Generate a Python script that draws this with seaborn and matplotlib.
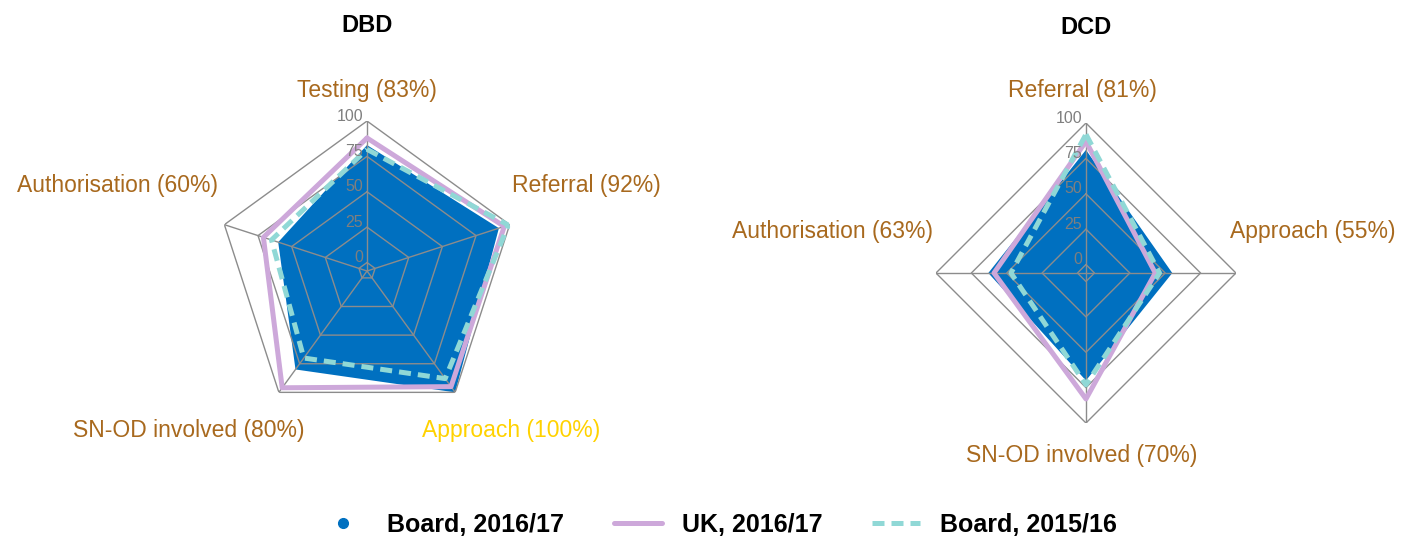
"""
DBD / DCD 레이더 차트 (Board vs UK) 재현 스크립트
"""
import numpy as np
import seaborn as sns
import matplotlib
matplotlib.use('Agg')
import matplotlib.pyplot as plt
from matplotlib.lines import Line2D

sns.set_style('white')
plt.rcParams['font.family'] = ['Liberation Sans', 'DejaVu Sans']

# 데이터
dbd_axes = ['Testing', 'Referral', 'Approach', 'SN-OD involved', 'Authorisation']
dbd_board_1617 = [83, 92, 100, 80, 60]
dbd_uk_1617 = [88, 96, 95, 96, 71]
dbd_board_1516 = [80, 99, 88, 70, 65]

dcd_axes = ['Referral', 'Approach', 'SN-OD involved', 'Authorisation']
dcd_board_1617 = [81, 55, 70, 63]
dcd_uk_1617 = [87, 43, 83, 59]
dcd_board_1516 = [92, 46, 73, 47]

ring_levels = [0, 25, 50, 75, 100]
r_min = -6

# 색상
blue = '#0070C0'
purple = '#CDA8DA'
teal = '#90D8D6'
grid_gray = '#8C8C8C'
label_brown = '#A8691E'
label_yellow = '#FFD200'
dash = (0, (2.4, 1.4))

# 라벨 위치 (꼭짓점 기준 픽셀 오프셋, 정렬)
dbd_label_pos = [((0, 31), 'center'), ((2, 39), 'left'), ((56, -38), 'center'),
                 ((26, -38), 'right'), ((-6, 39), 'right')]
dcd_label_pos = [((-4, 33), 'center'), ((-6, 42), 'left'), ((-4, -32), 'center'),
                 ((-3, 42), 'right')]


def radar(ax, names, board, uk, board_old, label_pos, title):
    n = len(names)
    theta = np.linspace(0, 2 * np.pi, n, endpoint=False)
    closed = np.append(theta, theta[0])
    ax.set_theta_zero_location('N')
    ax.set_theta_direction(-1)
    ax.set_ylim(r_min, 100)
    ax.grid(False)
    ax.spines['polar'].set_visible(False)
    ax.set_xticks([])
    ax.set_yticks([])

    # 파란 면적 (Board 2016/17)
    ax.fill(closed, np.append(board, board[0]), color=blue, lw=0, zorder=1)

    # 다각형 격자
    for lv in ring_levels:
        ax.plot(closed, [lv] * (n + 1), color=grid_gray, lw=1, zorder=2)
    for t in theta:
        ax.plot([t, t], [r_min, 100], color=grid_gray, lw=1, zorder=2)
    for lv in ring_levels:
        ax.annotate(str(lv), (0, lv), xytext=(-4, 5), textcoords='offset pixels',
                    ha='right', va='center', fontsize=11.5, color='#7F7F7F', zorder=6)

    # 선 (UK, Board 2015/16) - estimator=None 으로 중복 x 집계 방지
    sns.lineplot(x=closed, y=np.append(uk, uk[0]), ax=ax, sort=False, estimator=None,
                 color=purple, lw=3.6, zorder=4)
    sns.lineplot(x=closed, y=np.append(board_old, board_old[0]), ax=ax, sort=False,
                 estimator=None, color=teal, lw=3.6, zorder=5, linestyle=dash)

    # 축 라벨
    for t, name, val, (off, ha) in zip(theta, names, board, label_pos):
        col = label_yellow if val == 100 else label_brown
        ax.annotate(f'{name} ({val}%)', (t, 100), xytext=off, textcoords='offset pixels',
                    ha=ha, va='center', fontsize=16.5, color=col, annotation_clip=False)

    ax.text(0.5, 1.32, title, transform=ax.transAxes, ha='center', va='center',
            fontsize=17, fontweight='bold', color='black')


fig = plt.figure(figsize=(14.13, 5.41), dpi=100)
ax1 = fig.add_axes([0.1536, 0.2218, 0.2123, 0.5545], projection='polar')
ax2 = fig.add_axes([0.6624, 0.2181, 0.2123, 0.5545], projection='polar')

radar(ax1, dbd_axes, dbd_board_1617, dbd_uk_1617, dbd_board_1516, dbd_label_pos, 'DBD')
radar(ax2, dcd_axes, dcd_board_1617, dcd_uk_1617, dcd_board_1516, dcd_label_pos, 'DCD')

handles = [
    Line2D([], [], color=blue, marker='o', ls='none', markersize=7),
    Line2D([], [], color=purple, lw=3.6),
    Line2D([], [], color=teal, lw=3.6, ls=dash),
]
labels = ['Board, 2016/17', 'UK, 2016/17', 'Board, 2015/16']
leg = fig.legend(handles, labels, loc='center', bbox_to_anchor=(0.508, 0.03), ncol=3,
                 frameon=False, handlelength=1.92, handletextpad=0.8, columnspacing=2.0,
                 prop={'size': 18, 'weight': 'bold'})
for txt in leg.get_texts():
    txt.set_color('black')

plt.savefig('out.png', dpi=100)
